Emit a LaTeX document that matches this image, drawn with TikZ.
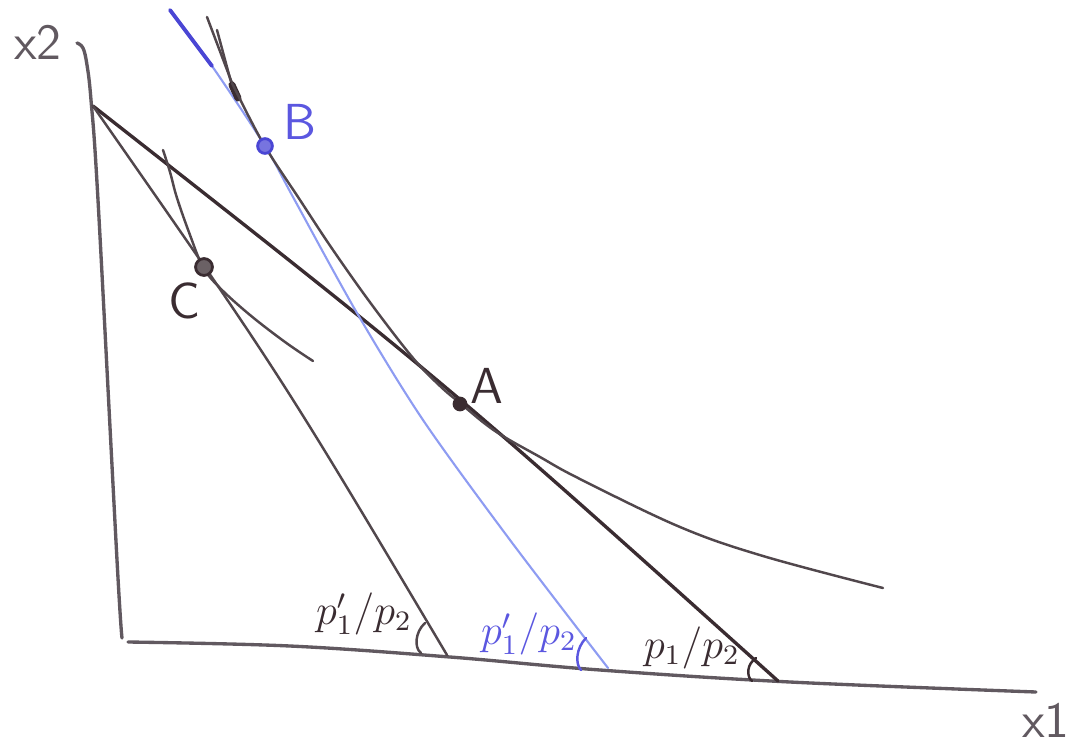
\documentclass[tikz,border=0pt]{standalone}
\usepackage{amsmath,amssymb}
\usetikzlibrary{positioning,calc}
\definecolor{cInk}{HTML}{3A2C31}
\definecolor{cInk2}{HTML}{51474C}
\definecolor{cMuted}{HTML}{615960}
\definecolor{cBlue}{HTML}{8E9CF2}
\definecolor{cBlueDk}{HTML}{4A46D4}
\definecolor{cBlueTxt}{HTML}{5B57E0}

\begin{document}
\begin{tikzpicture}[
  x=0.01cm, y=-0.01cm,
  axisline/.style={cMuted, line width=0.95pt, line cap=round, line join=round},
  budget/.style={cInk, line width=0.95pt, line cap=round},
  pivot/.style={cInk2, line width=0.7pt, line cap=round},
  comp/.style={cBlue, line width=0.6pt, line cap=round},
  indiff/.style={cInk2, line width=0.7pt, line cap=round, line join=round},
  anglemark/.style={line width=0.7pt, line cap=round},
  dot/.style={circle, fill=cInk, inner sep=0pt, minimum size=4.2pt},
  ring/.style={circle, draw=#1, fill=#1!75, line width=0.8pt, inner sep=0pt, minimum size=4.2pt},
  ptlab/.style={font=\Large\sffamily, inner sep=0pt},
  slope/.style={font=\large, inner sep=0pt},
  axlab/.style={font=\Large\sffamily, text=cMuted, inner sep=0pt},
]
\useasboundingbox (0,0) rectangle (1072,742);

% ================================================================ axes
\draw[axisline] plot[smooth, tension=0.6] coordinates
  {(77,43) (83,48) (87,65) (91,100) (98,200) (117,560) (122,638)};
\draw[axisline] plot[smooth, tension=0.6] coordinates
  {(128,642) (290,646) (450,657) (600,670) (790,682) (1036,692)};
\node[axlab] (lx2) at (38,42) {x2};
\node[axlab] (lx1) at (1046,720) {x1};

% ======================================================= budget lines
\coordinate (I) at (93,106);     % common intercept on the x2 axis
\coordinate (Xb) at (778,681);   % old line, p1/p2
\coordinate (Xp) at (447,655);   % new line, p1'/p2
\coordinate (Ct) at (170,10);    % compensated line, top end
\coordinate (Cm) at (212,66);
\coordinate (Xc) at (608,668);
\draw[budget] (I) .. controls (445,382) .. (Xb);
\draw[pivot] (I) .. controls (280,374) .. (Xp);
\draw[comp] plot[smooth, tension=0.5] coordinates
  {(Ct) (Cm) (265,146) (293,197) (357,313) (423,420) (510,540) (Xc)};
\draw[cBlueDk, line width=1.1pt, line cap=round] (Ct) -- (Cm);

% =================================================== indifference curves
% upper curve, touching at A and B
\draw[indiff] (207,17) -- (232,83);
\draw[indiff] (217,30) -- (231,82);
\draw[cInk, line width=2pt, line cap=round] (232,85) -- (238,98);
\draw[indiff] plot[smooth, tension=0.6] coordinates
  {(232,83) (263,143) (300,200) (333,250) (372,305) (413,358) (440,386)
   (460,403) (495,431) (540,457) (580,479) (680,527) (763,556) (883,588)};
% lower curve, through C
\draw[indiff] plot[smooth, tension=0.6] coordinates
  {(163,150) (170,172) (177,198) (190,235) (203,267) (220,288) (250,315)
   (285,342) (313,361)};

% ================================================================ points
\node[dot] (A) at (460,404) {};
\node[ring=cBlueDk] (B) at (265,146) {};
\node[ring=cInk, minimum size=4.8pt] (C) at (204,267) {};
\node[ptlab, text=cInk] (labA) at (487,386) {A};
\node[ptlab, text=cBlueTxt] (labB) at (300,122) {B};
\node[ptlab, text=cInk] (labC) at (184,301) {C};

% ========================================================= slope labels
\draw[anglemark, cInk2] (425,623) .. controls (415,632) and (414,648) .. (421,653);
\draw[anglemark, cBlueTxt] (586,638) .. controls (576,648) and (575,664) .. (581,670);
\draw[anglemark, cInk] (756,658) .. controls (747,664) and (746,676) .. (752,681);
\node[slope, text=cInk] (sp) at (364,614) {$p_1'/p_2$};
\node[slope, text=cBlueTxt] (sc) at (529,634) {$p_1'/p_2$};
\node[slope, text=cInk] (sb) at (692,648) {$p_1/p_2$};
\end{tikzpicture}
\end{document}
